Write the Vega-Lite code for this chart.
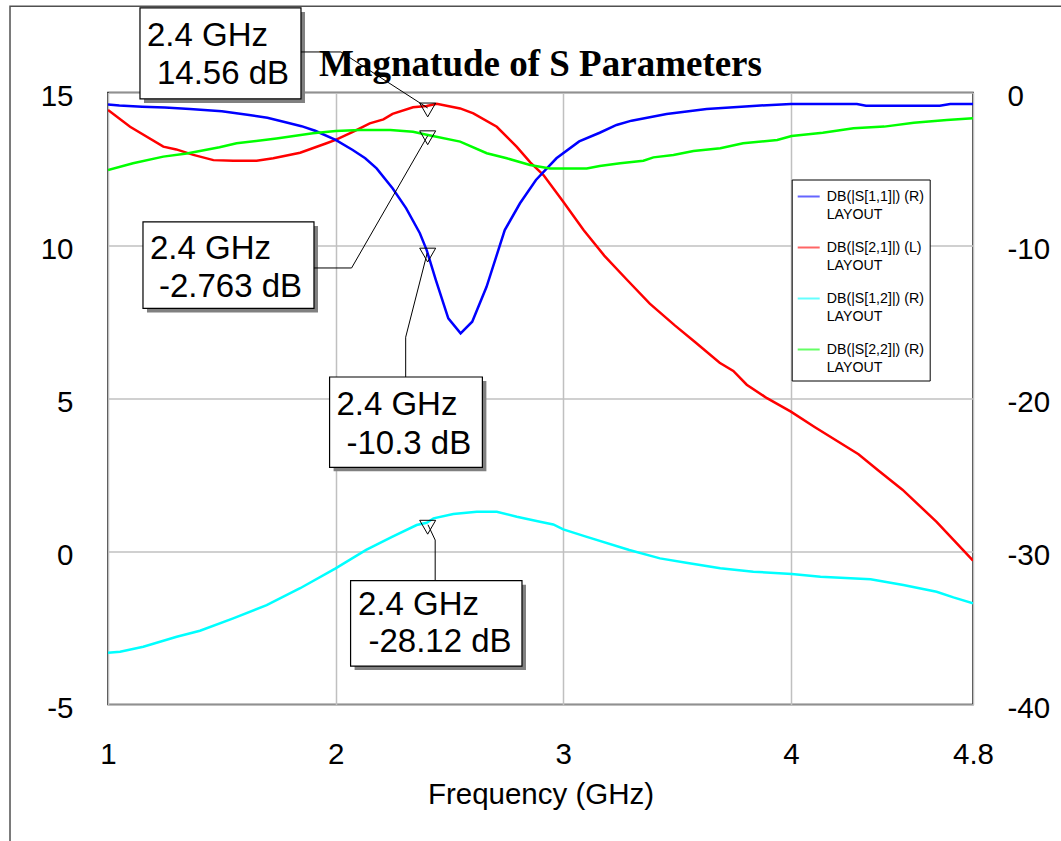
{
  "$schema": "https://vega.github.io/schema/vega-lite/v6.json",
  "autosize": "none",
  "padding": {"left": 108, "top": 92.5, "right": 88, "bottom": 136.5},
  "width": 865,
  "height": 612,
  "background": "white",
  "title": {"text": "Magnatude of S Parameters", "font": "Liberation Serif", "fontSize": 37, "fontWeight": "bold", "color": "black", "anchor": "middle", "baseline": "alphabetic", "offset": -108},
  "config": {
    "view": {"stroke": "black", "strokeWidth": 1.5},
    "axis": {"labelFont": "Liberation Sans", "labelFontSize": 29.5, "labelColor": "black", "titleFont": "Liberation Sans", "titleFontSize": 29.5, "titleFontWeight": "normal", "titleColor": "black", "ticks": false, "tickSize": 0, "domain": false, "gridColor": "#c0c0c0", "gridWidth": 1.5, "gridOpacity": 1, "labelFlush": false, "labelOverlap": false, "labelExpr": "'' + datum.value"}
  },
  "datasets": {
    "curves": [
      {"series": "DB(|S[1,1]|) (R)", "freq": 1.0, "db": -0.78},
      {"series": "DB(|S[1,1]|) (R)", "freq": 1.05, "db": -0.85},
      {"series": "DB(|S[1,1]|) (R)", "freq": 1.15, "db": -0.93},
      {"series": "DB(|S[1,1]|) (R)", "freq": 1.25, "db": -0.98},
      {"series": "DB(|S[1,1]|) (R)", "freq": 1.36, "db": -1.08},
      {"series": "DB(|S[1,1]|) (R)", "freq": 1.5, "db": -1.23},
      {"series": "DB(|S[1,1]|) (R)", "freq": 1.62, "db": -1.47},
      {"series": "DB(|S[1,1]|) (R)", "freq": 1.7, "db": -1.65},
      {"series": "DB(|S[1,1]|) (R)", "freq": 1.78, "db": -1.95},
      {"series": "DB(|S[1,1]|) (R)", "freq": 1.85, "db": -2.2},
      {"series": "DB(|S[1,1]|) (R)", "freq": 1.91, "db": -2.5},
      {"series": "DB(|S[1,1]|) (R)", "freq": 2.0, "db": -3.1},
      {"series": "DB(|S[1,1]|) (R)", "freq": 2.075, "db": -3.76},
      {"series": "DB(|S[1,1]|) (R)", "freq": 2.13, "db": -4.3},
      {"series": "DB(|S[1,1]|) (R)", "freq": 2.18, "db": -4.96},
      {"series": "DB(|S[1,1]|) (R)", "freq": 2.25, "db": -6.26},
      {"series": "DB(|S[1,1]|) (R)", "freq": 2.31, "db": -7.57},
      {"series": "DB(|S[1,1]|) (R)", "freq": 2.37, "db": -9.2},
      {"series": "DB(|S[1,1]|) (R)", "freq": 2.4, "db": -10.3},
      {"series": "DB(|S[1,1]|) (R)", "freq": 2.44, "db": -12.25},
      {"series": "DB(|S[1,1]|) (R)", "freq": 2.495, "db": -14.76},
      {"series": "DB(|S[1,1]|) (R)", "freq": 2.549, "db": -15.74},
      {"series": "DB(|S[1,1]|) (R)", "freq": 2.6, "db": -14.98},
      {"series": "DB(|S[1,1]|) (R)", "freq": 2.663, "db": -12.7},
      {"series": "DB(|S[1,1]|) (R)", "freq": 2.743, "db": -8.99},
      {"series": "DB(|S[1,1]|) (R)", "freq": 2.81, "db": -7.24},
      {"series": "DB(|S[1,1]|) (R)", "freq": 2.88, "db": -5.72},
      {"series": "DB(|S[1,1]|) (R)", "freq": 2.97, "db": -4.3},
      {"series": "DB(|S[1,1]|) (R)", "freq": 3.07, "db": -3.2},
      {"series": "DB(|S[1,1]|) (R)", "freq": 3.16, "db": -2.63},
      {"series": "DB(|S[1,1]|) (R)", "freq": 3.234, "db": -2.12},
      {"series": "DB(|S[1,1]|) (R)", "freq": 3.3, "db": -1.84},
      {"series": "DB(|S[1,1]|) (R)", "freq": 3.454, "db": -1.4},
      {"series": "DB(|S[1,1]|) (R)", "freq": 3.63, "db": -1.08},
      {"series": "DB(|S[1,1]|) (R)", "freq": 3.85, "db": -0.86},
      {"series": "DB(|S[1,1]|) (R)", "freq": 4.0, "db": -0.75},
      {"series": "DB(|S[1,1]|) (R)", "freq": 4.29, "db": -0.75},
      {"series": "DB(|S[1,1]|) (R)", "freq": 4.33, "db": -0.86},
      {"series": "DB(|S[1,1]|) (R)", "freq": 4.654, "db": -0.86},
      {"series": "DB(|S[1,1]|) (R)", "freq": 4.7, "db": -0.75},
      {"series": "DB(|S[1,1]|) (R)", "freq": 4.8, "db": -0.75},

      {"series": "DB(|S[2,1]|) (L)", "freq": 1.0, "db": 14.43},
      {"series": "DB(|S[2,1]|) (L)", "freq": 1.097, "db": 13.88},
      {"series": "DB(|S[2,1]|) (L)", "freq": 1.243, "db": 13.23},
      {"series": "DB(|S[2,1]|) (L)", "freq": 1.3, "db": 13.14},
      {"series": "DB(|S[2,1]|) (L)", "freq": 1.375, "db": 12.96},
      {"series": "DB(|S[2,1]|) (L)", "freq": 1.463, "db": 12.79},
      {"series": "DB(|S[2,1]|) (L)", "freq": 1.55, "db": 12.77},
      {"series": "DB(|S[2,1]|) (L)", "freq": 1.653, "db": 12.77},
      {"series": "DB(|S[2,1]|) (L)", "freq": 1.726, "db": 12.85},
      {"series": "DB(|S[2,1]|) (L)", "freq": 1.844, "db": 13.03},
      {"series": "DB(|S[2,1]|) (L)", "freq": 1.96, "db": 13.34},
      {"series": "DB(|S[2,1]|) (L)", "freq": 2.0, "db": 13.45},
      {"series": "DB(|S[2,1]|) (L)", "freq": 2.078, "db": 13.72},
      {"series": "DB(|S[2,1]|) (L)", "freq": 2.15, "db": 13.99},
      {"series": "DB(|S[2,1]|) (L)", "freq": 2.21, "db": 14.12},
      {"series": "DB(|S[2,1]|) (L)", "freq": 2.25, "db": 14.3},
      {"series": "DB(|S[2,1]|) (L)", "freq": 2.34, "db": 14.52},
      {"series": "DB(|S[2,1]|) (L)", "freq": 2.4, "db": 14.56},
      {"series": "DB(|S[2,1]|) (L)", "freq": 2.444, "db": 14.63},
      {"series": "DB(|S[2,1]|) (L)", "freq": 2.547, "db": 14.48},
      {"series": "DB(|S[2,1]|) (L)", "freq": 2.605, "db": 14.32},
      {"series": "DB(|S[2,1]|) (L)", "freq": 2.708, "db": 13.88},
      {"series": "DB(|S[2,1]|) (L)", "freq": 2.795, "db": 13.23},
      {"series": "DB(|S[2,1]|) (L)", "freq": 2.856, "db": 12.71},
      {"series": "DB(|S[2,1]|) (L)", "freq": 2.913, "db": 12.3},
      {"series": "DB(|S[2,1]|) (L)", "freq": 3.0, "db": 11.43},
      {"series": "DB(|S[2,1]|) (L)", "freq": 3.09, "db": 10.5},
      {"series": "DB(|S[2,1]|) (L)", "freq": 3.18, "db": 9.67},
      {"series": "DB(|S[2,1]|) (L)", "freq": 3.285, "db": 8.84},
      {"series": "DB(|S[2,1]|) (L)", "freq": 3.38, "db": 8.1},
      {"series": "DB(|S[2,1]|) (L)", "freq": 3.49, "db": 7.39},
      {"series": "DB(|S[2,1]|) (L)", "freq": 3.58, "db": 6.84},
      {"series": "DB(|S[2,1]|) (L)", "freq": 3.687, "db": 6.17},
      {"series": "DB(|S[2,1]|) (L)", "freq": 3.747, "db": 5.9},
      {"series": "DB(|S[2,1]|) (L)", "freq": 3.806, "db": 5.45},
      {"series": "DB(|S[2,1]|) (L)", "freq": 3.895, "db": 5.01},
      {"series": "DB(|S[2,1]|) (L)", "freq": 4.0, "db": 4.57},
      {"series": "DB(|S[2,1]|) (L)", "freq": 4.104, "db": 4.07},
      {"series": "DB(|S[2,1]|) (L)", "freq": 4.297, "db": 3.18},
      {"series": "DB(|S[2,1]|) (L)", "freq": 4.387, "db": 2.63},
      {"series": "DB(|S[2,1]|) (L)", "freq": 4.49, "db": 2.02},
      {"series": "DB(|S[2,1]|) (L)", "freq": 4.64, "db": 0.97},
      {"series": "DB(|S[2,1]|) (L)", "freq": 4.8, "db": -0.3},

      {"series": "DB(|S[1,2]|) (R)", "freq": 1.0, "db": -36.61},
      {"series": "DB(|S[1,2]|) (R)", "freq": 1.053, "db": -36.55},
      {"series": "DB(|S[1,2]|) (R)", "freq": 1.155, "db": -36.22},
      {"series": "DB(|S[1,2]|) (R)", "freq": 1.302, "db": -35.57},
      {"series": "DB(|S[1,2]|) (R)", "freq": 1.404, "db": -35.18},
      {"series": "DB(|S[1,2]|) (R)", "freq": 1.55, "db": -34.37},
      {"series": "DB(|S[1,2]|) (R)", "freq": 1.697, "db": -33.5},
      {"series": "DB(|S[1,2]|) (R)", "freq": 1.844, "db": -32.4},
      {"series": "DB(|S[1,2]|) (R)", "freq": 2.0, "db": -31.1},
      {"series": "DB(|S[1,2]|) (R)", "freq": 2.134, "db": -29.9},
      {"series": "DB(|S[1,2]|) (R)", "freq": 2.25, "db": -29.03},
      {"series": "DB(|S[1,2]|) (R)", "freq": 2.356, "db": -28.27},
      {"series": "DB(|S[1,2]|) (R)", "freq": 2.4, "db": -28.12},
      {"series": "DB(|S[1,2]|) (R)", "freq": 2.43, "db": -27.83},
      {"series": "DB(|S[1,2]|) (R)", "freq": 2.517, "db": -27.55},
      {"series": "DB(|S[1,2]|) (R)", "freq": 2.62, "db": -27.4},
      {"series": "DB(|S[1,2]|) (R)", "freq": 2.708, "db": -27.4},
      {"series": "DB(|S[1,2]|) (R)", "freq": 2.796, "db": -27.73},
      {"series": "DB(|S[1,2]|) (R)", "freq": 2.898, "db": -28.05},
      {"series": "DB(|S[1,2]|) (R)", "freq": 2.956, "db": -28.23},
      {"series": "DB(|S[1,2]|) (R)", "freq": 3.0, "db": -28.55},
      {"series": "DB(|S[1,2]|) (R)", "freq": 3.1, "db": -29.03},
      {"series": "DB(|S[1,2]|) (R)", "freq": 3.29, "db": -29.9},
      {"series": "DB(|S[1,2]|) (R)", "freq": 3.425, "db": -30.45},
      {"series": "DB(|S[1,2]|) (R)", "freq": 3.54, "db": -30.73},
      {"series": "DB(|S[1,2]|) (R)", "freq": 3.69, "db": -31.1},
      {"series": "DB(|S[1,2]|) (R)", "freq": 3.835, "db": -31.32},
      {"series": "DB(|S[1,2]|) (R)", "freq": 4.004, "db": -31.47},
      {"series": "DB(|S[1,2]|) (R)", "freq": 4.13, "db": -31.65},
      {"series": "DB(|S[1,2]|) (R)", "freq": 4.35, "db": -31.82},
      {"series": "DB(|S[1,2]|) (R)", "freq": 4.494, "db": -32.19},
      {"series": "DB(|S[1,2]|) (R)", "freq": 4.64, "db": -32.63},
      {"series": "DB(|S[1,2]|) (R)", "freq": 4.714, "db": -33.0},
      {"series": "DB(|S[1,2]|) (R)", "freq": 4.8, "db": -33.39},

      {"series": "DB(|S[2,2]|) (R)", "freq": 1.0, "db": -5.07},
      {"series": "DB(|S[2,2]|) (R)", "freq": 1.11, "db": -4.63},
      {"series": "DB(|S[2,2]|) (R)", "freq": 1.243, "db": -4.19},
      {"series": "DB(|S[2,2]|) (R)", "freq": 1.346, "db": -3.98},
      {"series": "DB(|S[2,2]|) (R)", "freq": 1.49, "db": -3.58},
      {"series": "DB(|S[2,2]|) (R)", "freq": 1.565, "db": -3.32},
      {"series": "DB(|S[2,2]|) (R)", "freq": 1.74, "db": -3.0},
      {"series": "DB(|S[2,2]|) (R)", "freq": 1.9, "db": -2.67},
      {"series": "DB(|S[2,2]|) (R)", "freq": 2.0, "db": -2.52},
      {"series": "DB(|S[2,2]|) (R)", "freq": 2.107, "db": -2.45},
      {"series": "DB(|S[2,2]|) (R)", "freq": 2.24, "db": -2.45},
      {"series": "DB(|S[2,2]|) (R)", "freq": 2.34, "db": -2.56},
      {"series": "DB(|S[2,2]|) (R)", "freq": 2.4, "db": -2.76},
      {"series": "DB(|S[2,2]|) (R)", "freq": 2.547, "db": -3.21},
      {"series": "DB(|S[2,2]|) (R)", "freq": 2.664, "db": -3.97},
      {"series": "DB(|S[2,2]|) (R)", "freq": 2.752, "db": -4.3},
      {"series": "DB(|S[2,2]|) (R)", "freq": 2.854, "db": -4.74},
      {"series": "DB(|S[2,2]|) (R)", "freq": 2.942, "db": -4.96},
      {"series": "DB(|S[2,2]|) (R)", "freq": 3.103, "db": -4.96},
      {"series": "DB(|S[2,2]|) (R)", "freq": 3.16, "db": -4.8},
      {"series": "DB(|S[2,2]|) (R)", "freq": 3.25, "db": -4.63},
      {"series": "DB(|S[2,2]|) (R)", "freq": 3.352, "db": -4.46},
      {"series": "DB(|S[2,2]|) (R)", "freq": 3.396, "db": -4.24},
      {"series": "DB(|S[2,2]|) (R)", "freq": 3.484, "db": -4.08},
      {"series": "DB(|S[2,2]|) (R)", "freq": 3.572, "db": -3.82},
      {"series": "DB(|S[2,2]|) (R)", "freq": 3.69, "db": -3.65},
      {"series": "DB(|S[2,2]|) (R)", "freq": 3.79, "db": -3.32},
      {"series": "DB(|S[2,2]|) (R)", "freq": 3.94, "db": -3.1},
      {"series": "DB(|S[2,2]|) (R)", "freq": 4.003, "db": -2.84},
      {"series": "DB(|S[2,2]|) (R)", "freq": 4.14, "db": -2.63},
      {"series": "DB(|S[2,2]|) (R)", "freq": 4.275, "db": -2.34},
      {"series": "DB(|S[2,2]|) (R)", "freq": 4.41, "db": -2.23},
      {"series": "DB(|S[2,2]|) (R)", "freq": 4.54, "db": -1.97},
      {"series": "DB(|S[2,2]|) (R)", "freq": 4.685, "db": -1.8},
      {"series": "DB(|S[2,2]|) (R)", "freq": 4.8, "db": -1.69}
    ],
    "ann": [
      {"series": "DB(|S[2,1]|) (L)", "freq": 2.4, "db": 14.56, "ftext": "2.4 GHz", "vtext": "14.56 dB"},
      {"series": "DB(|S[2,2]|) (R)", "freq": 2.4, "db": -2.763, "ftext": "2.4 GHz", "vtext": "-2.763 dB"},
      {"series": "DB(|S[1,1]|) (R)", "freq": 2.4, "db": -10.3, "ftext": "2.4 GHz", "vtext": "-10.3 dB"},
      {"series": "DB(|S[1,2]|) (R)", "freq": 2.4, "db": -28.12, "ftext": "2.4 GHz", "vtext": "-28.12 dB"}
    ]
  },
  "resolve": {"scale": {"y": "independent"}, "axis": {"y": "independent"}},
  "layer": [
    {
      "layer": [
        {
          "data": {"values": [{}]},
          "mark": {"type": "rect", "fill": "white", "fillOpacity": 0, "stroke": "#505050", "strokeWidth": 1.5},
          "encoding": {"x": {"datum": 0.5695, "type": "quantitative"}, "x2": {"datum": 5.3}, "y": {"datum": 17.82, "type": "quantitative"}, "y2": {"datum": -10}}
        },
        {
          "data": {"name": "curves"},
          "transform": [{"filter": {"field": "series", "equal": "DB(|S[2,1]|) (L)"}}],
          "mark": {"type": "line", "strokeWidth": 2.5, "clip": true},
          "encoding": {
            "x": {"field": "freq", "type": "quantitative", "scale": {"domain": [1, 4.8], "nice": false, "zero": false},
                  "axis": {"orient": "bottom", "values": [1, 2, 3, 4, 4.8], "grid": true, "labelBaseline": "middle", "labelPadding": 49.5, "title": "Frequency (GHz)", "titlePadding": 12}},
            "y": {"field": "db", "type": "quantitative", "scale": {"domain": [-5, 15], "nice": false, "zero": false},
                  "axis": {"orient": "left", "values": [-5, 0, 5, 10, 15], "grid": true, "labelBaseline": "middle", "labelPadding": 35, "labelOffset": 4, "title": null}},
            "color": {"field": "series", "type": "nominal",
                      "scale": {"domain": ["DB(|S[1,1]|) (R)", "DB(|S[2,1]|) (L)", "DB(|S[1,2]|) (R)", "DB(|S[2,2]|) (R)"], "range": ["#0000ff", "#ff0000", "#00ffff", "#00ff00"]},
                      "legend": {"orient": "none", "legendX": 683.7, "legendY": 87, "title": null, "strokeColor": "black", "fillColor": "white", "padding": 5,
                                 "symbolType": "stroke", "symbolSize": 484, "symbolStrokeWidth": 2, "symbolOpacity": 0.6,
                                 "labelFont": "Liberation Sans", "labelFontSize": 14.2, "labelColor": "black", "labelOffset": 6, "labelLimit": 0, "rowPadding": 13,
                                 "labelExpr": "[datum.label, 'LAYOUT']",
                                 "encode": {"labels": {"update": {"lineHeight": {"value": 18}}}}}}
          }
        },
        {
          "data": {"name": "ann"},
          "transform": [{"filter": {"field": "series", "equal": "DB(|S[2,1]|) (L)"}}],
          "encoding": {"x": {"field": "freq", "type": "quantitative"}, "y": {"field": "db", "type": "quantitative"}},
          "layer": [
            {"mark": {"type": "rect", "fill": "#808080", "xOffset": -282.7, "x2Offset": -121.7, "yOffset": -94, "y2Offset": -3}, "encoding": {"x2": {"field": "freq"}, "y2": {"field": "db"}}},
            {"mark": {"type": "rect", "fill": "white", "stroke": "black", "strokeWidth": 1.2, "xOffset": -286.7, "x2Offset": -125.7, "yOffset": -98, "y2Offset": -7}, "encoding": {"x2": {"field": "freq"}, "y2": {"field": "db"}}},
            {"mark": {"type": "rule", "color": "black", "strokeWidth": 1, "xOffset": -125.7, "x2Offset": -85.7, "yOffset": -54, "y2Offset": -54}, "encoding": {"x2": {"field": "freq"}, "y2": {"field": "db"}}},
            {"mark": {"type": "rule", "color": "black", "strokeWidth": 1, "xOffset": -85.7, "x2Offset": 1, "yOffset": -54, "y2Offset": 2}, "encoding": {"x2": {"field": "freq"}, "y2": {"field": "db"}}},
            {"mark": {"type": "text", "align": "left", "baseline": "alphabetic", "dx": -279.7, "dy": -60.4, "font": "Liberation Sans", "fontSize": 33, "color": "black"}, "encoding": {"text": {"field": "ftext"}}},
            {"mark": {"type": "text", "align": "left", "baseline": "alphabetic", "dx": -269.7, "dy": -22.2, "font": "Liberation Sans", "fontSize": 33, "color": "black"}, "encoding": {"text": {"field": "vtext"}}},
            {"mark": {"type": "point", "shape": "triangle-down", "filled": false, "stroke": "black", "strokeWidth": 1, "size": 256, "xOffset": 1, "yOffset": 4, "opacity": 1}}
          ]
        }
      ]
    },
    {
      "layer": [
        {
          "data": {"name": "curves"},
          "transform": [{"filter": {"not": {"field": "series", "equal": "DB(|S[2,1]|) (L)"}}}],
          "mark": {"type": "line", "strokeWidth": 2.5, "clip": true},
          "encoding": {
            "x": {"field": "freq", "type": "quantitative"},
            "y": {"field": "db", "type": "quantitative", "scale": {"domain": [-40, 0], "nice": false, "zero": false},
                  "axis": {"orient": "right", "values": [-40, -30, -20, -10, 0], "grid": false, "labelBaseline": "middle", "labelPadding": 34, "labelOffset": 4, "title": null}},
            "color": {"field": "series", "type": "nominal"}
          }
        },
        {
          "data": {"name": "ann"},
          "transform": [{"filter": {"field": "series", "equal": "DB(|S[2,2]|) (R)"}}],
          "encoding": {"x": {"field": "freq", "type": "quantitative"}, "y": {"field": "db", "type": "quantitative"}},
          "layer": [
            {"mark": {"type": "rect", "fill": "#808080", "xOffset": -279.7, "x2Offset": -108.7, "yOffset": 91.2, "y2Offset": 177.7}, "encoding": {"x2": {"field": "freq"}, "y2": {"field": "db"}}},
            {"mark": {"type": "rect", "fill": "white", "stroke": "black", "strokeWidth": 1.2, "xOffset": -283.7, "x2Offset": -112.7, "yOffset": 87.2, "y2Offset": 173.7}, "encoding": {"x2": {"field": "freq"}, "y2": {"field": "db"}}},
            {"mark": {"type": "rule", "color": "black", "strokeWidth": 1, "xOffset": -112.7, "x2Offset": -75.1, "yOffset": 133.2, "y2Offset": 133.2}, "encoding": {"x2": {"field": "freq"}, "y2": {"field": "db"}}},
            {"mark": {"type": "rule", "color": "black", "strokeWidth": 1, "xOffset": -75.1, "x2Offset": 1, "yOffset": 133.2, "y2Offset": 1}, "encoding": {"x2": {"field": "freq"}, "y2": {"field": "db"}}},
            {"mark": {"type": "text", "align": "left", "baseline": "alphabetic", "dx": -276.7, "dy": 123.8, "font": "Liberation Sans", "fontSize": 33, "color": "black"}, "encoding": {"text": {"field": "ftext"}}},
            {"mark": {"type": "text", "align": "left", "baseline": "alphabetic", "dx": -267.7, "dy": 162.7, "font": "Liberation Sans", "fontSize": 33, "color": "black"}, "encoding": {"text": {"field": "vtext"}}},
            {"mark": {"type": "point", "shape": "triangle-down", "filled": false, "stroke": "black", "strokeWidth": 1, "size": 256, "xOffset": 1, "yOffset": 3, "opacity": 1}}
          ]
        },
        {
          "data": {"name": "ann"},
          "transform": [{"filter": {"field": "series", "equal": "DB(|S[1,1]|) (R)"}}],
          "encoding": {"x": {"field": "freq", "type": "quantitative"}, "y": {"field": "db", "type": "quantitative"}},
          "layer": [
            {"mark": {"type": "rect", "fill": "#808080", "xOffset": -93.1, "x2Offset": 59.7, "yOffset": 130.9, "y2Offset": 221.2}, "encoding": {"x2": {"field": "freq"}, "y2": {"field": "db"}}},
            {"mark": {"type": "rect", "fill": "white", "stroke": "black", "strokeWidth": 1.2, "xOffset": -97.1, "x2Offset": 55.7, "yOffset": 126.9, "y2Offset": 217.2}, "encoding": {"x2": {"field": "freq"}, "y2": {"field": "db"}}},
            {"mark": {"type": "rule", "color": "black", "strokeWidth": 1, "xOffset": -21, "x2Offset": -21, "yOffset": 126.9, "y2Offset": 87.1}, "encoding": {"x2": {"field": "freq"}, "y2": {"field": "db"}}},
            {"mark": {"type": "rule", "color": "black", "strokeWidth": 1, "xOffset": -21, "x2Offset": 0.5, "yOffset": 87.1, "y2Offset": 3}, "encoding": {"x2": {"field": "freq"}, "y2": {"field": "db"}}},
            {"mark": {"type": "text", "align": "left", "baseline": "alphabetic", "dx": -90.3, "dy": 164.9, "font": "Liberation Sans", "fontSize": 33, "color": "black"}, "encoding": {"text": {"field": "ftext"}}},
            {"mark": {"type": "text", "align": "left", "baseline": "alphabetic", "dx": -80.2, "dy": 203.7, "font": "Liberation Sans", "fontSize": 33, "color": "black"}, "encoding": {"text": {"field": "vtext"}}},
            {"mark": {"type": "point", "shape": "triangle-down", "filled": false, "stroke": "black", "strokeWidth": 1, "size": 256, "xOffset": 1, "yOffset": 5, "opacity": 1}}
          ]
        },
        {
          "data": {"name": "ann"},
          "transform": [{"filter": {"field": "series", "equal": "DB(|S[1,2]|) (R)"}}],
          "encoding": {"x": {"field": "freq", "type": "quantitative"}, "y": {"field": "db", "type": "quantitative"}},
          "layer": [
            {"mark": {"type": "rect", "fill": "#808080", "xOffset": -72.1, "x2Offset": 99.3, "yOffset": 61.9, "y2Offset": 147.3}, "encoding": {"x2": {"field": "freq"}, "y2": {"field": "db"}}},
            {"mark": {"type": "rect", "fill": "white", "stroke": "black", "strokeWidth": 1.2, "xOffset": -76.1, "x2Offset": 95.3, "yOffset": 57.9, "y2Offset": 143.3}, "encoding": {"x2": {"field": "freq"}, "y2": {"field": "db"}}},
            {"mark": {"type": "rule", "color": "black", "strokeWidth": 1, "xOffset": 8.5, "x2Offset": 8.5, "yOffset": 57.9, "y2Offset": 17.3}, "encoding": {"x2": {"field": "freq"}, "y2": {"field": "db"}}},
            {"mark": {"type": "rule", "color": "black", "strokeWidth": 1, "xOffset": 8.5, "x2Offset": 1.3, "yOffset": 17.3, "y2Offset": 2}, "encoding": {"x2": {"field": "freq"}, "y2": {"field": "db"}}},
            {"mark": {"type": "text", "align": "left", "baseline": "alphabetic", "dx": -68.7, "dy": 92.3, "font": "Liberation Sans", "fontSize": 33, "color": "black"}, "encoding": {"text": {"field": "ftext"}}},
            {"mark": {"type": "text", "align": "left", "baseline": "alphabetic", "dx": -58.2, "dy": 129.3, "font": "Liberation Sans", "fontSize": 33, "color": "black"}, "encoding": {"text": {"field": "vtext"}}},
            {"mark": {"type": "point", "shape": "triangle-down", "filled": false, "stroke": "black", "strokeWidth": 1, "size": 256, "xOffset": 1, "yOffset": 4.5, "opacity": 1}}
          ]
        }
      ]
    }
  ]
}
